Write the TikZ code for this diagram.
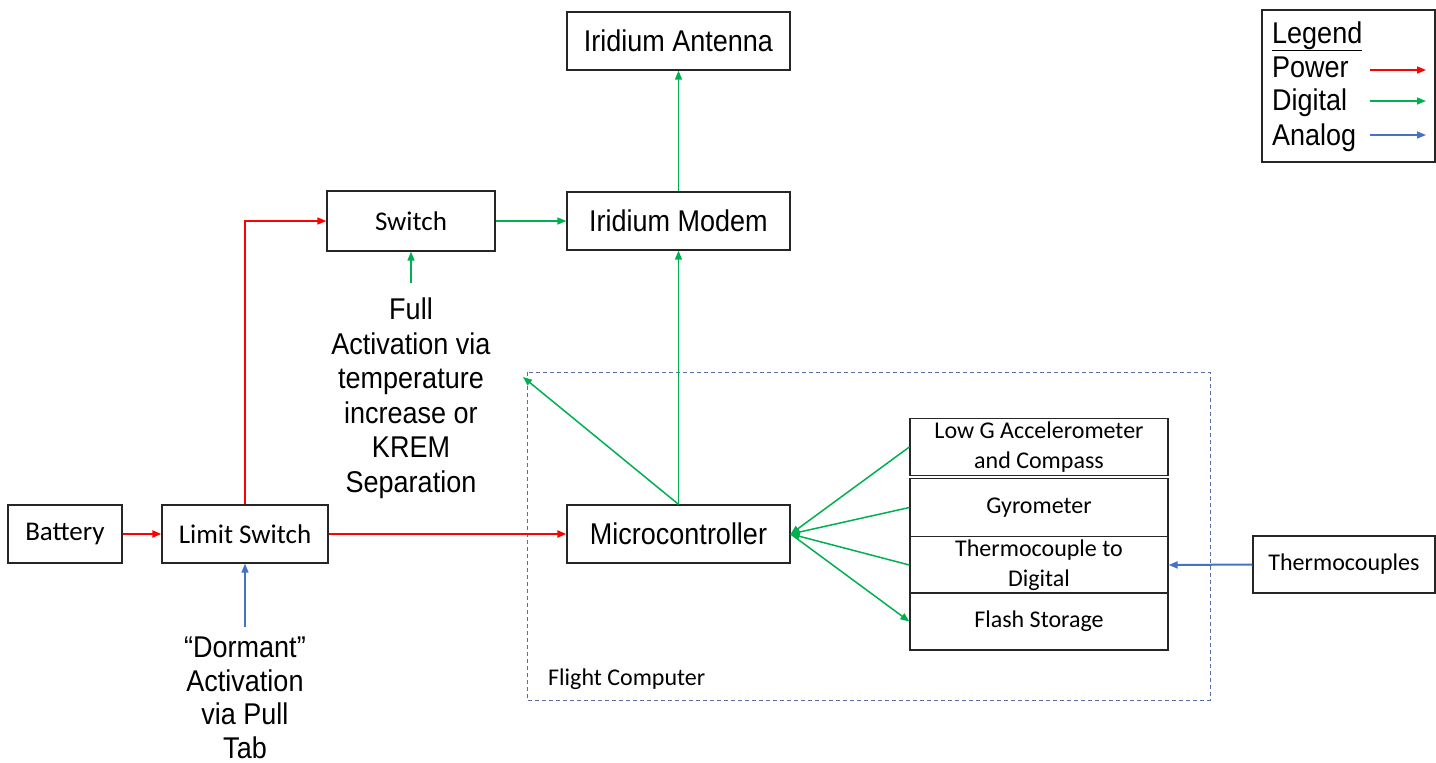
\documentclass[tikz,border=0pt]{standalone}
\usepackage{fontspec}
\newfontfamily\arialf[FakeStretch=0.9]{Liberation Sans}
\newfontfamily\calf{Carlito}
\usetikzlibrary{arrows.meta}
\definecolor{pwr}{RGB}{255,0,0}
\definecolor{dig}{RGB}{0,176,80}
\definecolor{ana}{RGB}{68,114,196}
\definecolor{dashcol}{RGB}{90,110,165}
\begin{document}
\begin{tikzpicture}[x=1pt,y=-1pt,
  box/.style={draw=black!85,line width=1.3pt,inner sep=0pt,align=center},
  bigtxt/.style={font=\arialf\fontsize{30}{34.5}\selectfont},
  dormtxtstyle/.style={font=\arialf\fontsize{30}{33.5}\selectfont},
  midtxt/.style={font=\calf\fontsize{27}{30}\selectfont},
  smalltxt/.style={font=\calf\fontsize{24}{30}\selectfont},
  arrowtip/.style={-{Triangle[length=9pt,width=7pt]}},
  power/.style={arrowtip,draw=pwr,line width=1.5pt},
  powerthick/.style={arrowtip,draw=pwr,line width=2.6pt},
  digital/.style={arrowtip,draw=dig,line width=1.5pt},
  analog/.style={arrowtip,draw=ana,line width=1.5pt},
  plain/.style={inner sep=0pt,align=center}
]
\useasboundingbox (0,0) rectangle (1436,763);

% boxes
\node[box,bigtxt,minimum width=223pt,minimum height=58pt] (ant) at (678.5,41) {Iridium Antenna};
\node[box,bigtxt,minimum width=223pt,minimum height=58pt] (mod) at (678.5,221) {Iridium Modem};
\node[box,midtxt,minimum width=168pt,minimum height=60pt] (sw) at (411,221) {Switch};
\node[box,midtxt,minimum width=114pt,minimum height=58pt] (bat) at (65,534) {Battery};
\node[box,midtxt,minimum width=166pt,minimum height=58pt] (lim) at (245,534) {Limit Switch};
\node[box,bigtxt,minimum width=223pt,minimum height=58pt] (mic) at (678.5,534) {Microcontroller};
\node[box,smalltxt,minimum width=258pt,minimum height=57pt] (lowg) at (1039,447) {Low G Accelerometer\\and Compass};
\node[box,smalltxt,minimum width=258pt,minimum height=58pt] (gyro) at (1039,507.5) {Gyrometer};
\node[box,smalltxt,minimum width=258pt,minimum height=57pt] (ttod) at (1039,565) {Thermocouple to\\Digital};
\node[box,smalltxt,minimum width=258pt,minimum height=57pt] (flash) at (1039,621.5) {Flash Storage};
\node[box,smalltxt,minimum width=182pt,minimum height=57pt] (tc) at (1344,564.5) {Thermocouples};

% flight computer
\draw[dashcol,line width=1pt,dash pattern=on 4pt off 3pt] (527,372) rectangle (1210,700);
\node[plain,smalltxt,anchor=west] (fc) at (548,679) {Flight Computer};

% free texts
\node[plain,bigtxt,anchor=north] (fulltxt) at (411,298) {Full\\Activation via\\temperature\\increase or\\KREM\\Separation};
\node[plain,dormtxtstyle,anchor=north] (dormtxt) at (245,637) {“Dormant”\\Activation\\via Pull\\Tab};

% legend
\node[box,minimum width=173pt,minimum height=152pt] (legbox) at (1348.5,86) {};
\node[plain,bigtxt,anchor=base west] (legt) at (1272,43) {\underline{Legend}};
\node[plain,bigtxt,anchor=base west] (legp) at (1272,77) {Power};
\node[plain,bigtxt,anchor=base west] (legd) at (1272,110) {Digital};
\node[plain,bigtxt,anchor=base west] (lega) at (1272,145) {Analog};
\coordinate (lp1) at (1370,70); \coordinate (lp2) at (1426,70);
\coordinate (ld1) at (1370,101); \coordinate (ld2) at (1426,101);
\coordinate (la1) at (1370,135); \coordinate (la2) at (1426,135);
\draw[power] (lp1) -- (lp2);
\draw[digital] (ld1) -- (ld2);
\draw[analog] (la1) -- (la2);

% connectors
\draw[powerthick] (bat.east) -- (lim.west);
\draw[powerthick] (lim.east) -- (mic.west);
\draw[power] (lim.north) |- (sw.west);
\draw[digital] (sw.east) -- (mod.west);
\coordinate (fa) at (411,283);
\draw[digital] (fa) -- (sw.south);
\draw[digital] (mic.north) -- (mod.south);
\draw[digital] (mod.north) -- (ant.south);
\coordinate (fcc) at (523,377);
\draw[digital] (mic.north) -- (fcc);
\draw[digital] (lowg.west) -- (mic.east);
\draw[digital] (gyro.west) -- (mic.east);
\draw[digital] (ttod.west) -- (mic.east);
\draw[digital] (mic.east) -- (flash.west);
\draw[analog,line width=2pt] (tc.west) -- (ttod.east);
\coordinate (dt) at (245,627);
\draw[analog] (dt) -- (lim.south);
\end{tikzpicture}
\end{document}
